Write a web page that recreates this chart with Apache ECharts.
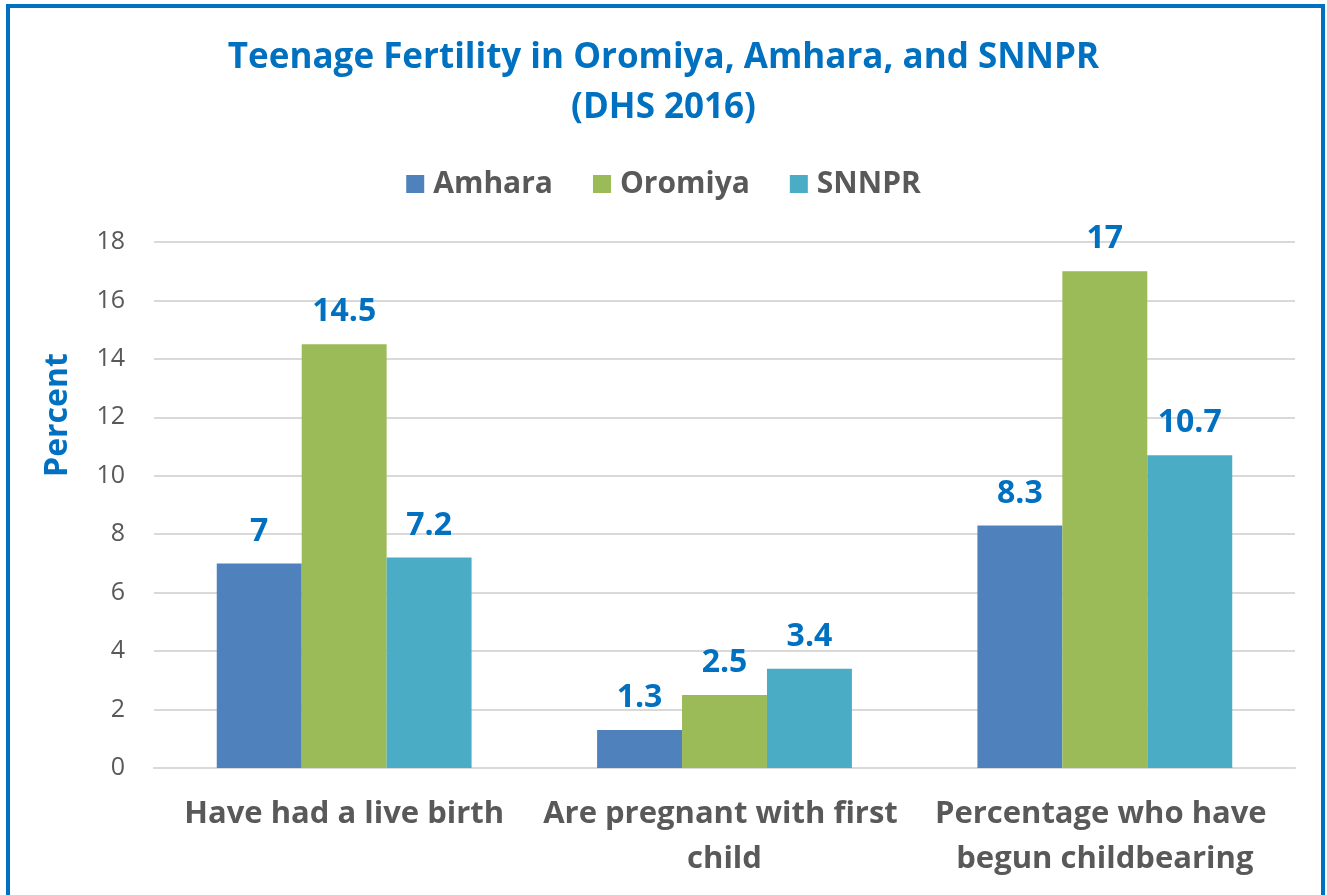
<!DOCTYPE html>
<html>
<head>
<meta charset="utf-8">
<script src="https://cdn.jsdelivr.net/npm/echarts@6/dist/echarts.min.js"></script>
<style>
  html, body { margin: 0; padding: 0; background: #fff; }
  #chart { width: 1327px; height: 895px; }
</style>
</head>
<body>
<div id="chart"></div>
<script>
// data
const categories = ["Have had a live birth", "Are pregnant with first child", "Percentage who have begun childbearing"];
const amhara = [7, 1.3, 8.3];
const oromiya = [14.5, 2.5, 17];
const snnpr = [7.2, 3.4, 10.7];
const yTicks = [0, 2, 4, 6, 8, 10, 12, 14, 16, 18];

const blue = "#0070C0";
const grey = "#595959";
const font = "'Open Sans', sans-serif";

let chart = echarts.init(document.getElementById("chart"));

function barSeries(name, data, color) {
  return {
    name: name,
    type: "bar",
    data: data,
    barGap: "0%",
    barCategoryGap: "33%",
    itemStyle: { color: color },
    label: {
      show: true,
      position: "top",
      distance: 16,
      color: blue,
      fontFamily: font,
      fontWeight: "bold",
      fontSize: 32
    }
  };
}

const option = {
  animation: false,
  textStyle: { fontFamily: font },
  title: {
    text: "Teenage Fertility in Oromiya, Amhara, and SNNPR\n(DHS 2016)",
    left: "center",
    top: 28,
    textStyle: {
      color: blue,
      fontFamily: font,
      fontWeight: "bold",
      fontSize: 35,
      lineHeight: 50
    }
  },
  legend: {
    top: 164,
    left: "center",
    itemWidth: 18,
    itemHeight: 18,
    itemGap: 40,
    icon: "rect",
    textStyle: { color: grey, fontFamily: font, fontWeight: "bold", fontSize: 30, padding: [0, 0, 0, 4] },
    data: ["Amhara", "Oromiya", "SNNPR"]
  },
  grid: { left: 154, right: 32, top: 242, bottom: 127, containLabel: false },
  xAxis: {
    type: "category",
    data: categories,
    axisLine: { show: true, lineStyle: { color: "#d9d9d9", width: 2 } },
    axisTick: { show: false },
    axisLabel: {
      color: grey,
      fontFamily: font,
      fontWeight: "bold",
      fontSize: 31,
      lineHeight: 45,
      margin: 24,
      width: 372,
      overflow: "break",
      interval: 0
    }
  },
  yAxis: {
    type: "value",
    min: yTicks[0],
    max: yTicks[yTicks.length - 1],
    interval: 2,
    name: "Percent",
    nameLocation: "middle",
    nameGap: 80,
    nameTextStyle: {
      color: blue,
      fontFamily: font,
      fontWeight: "bold",
      fontSize: 32,
      padding: [0, 0, 0, 180]
    },
    axisLine: { show: false },
    axisTick: { show: false },
    axisLabel: { color: grey, fontFamily: font, fontSize: 25, margin: 29 },
    splitLine: { lineStyle: { color: "#d9d9d9", width: 2 } }
  },
  series: [
    barSeries("Amhara", amhara, "#4F81BD"),
    barSeries("Oromiya", oromiya, "#9BBB59"),
    barSeries("SNNPR", snnpr, "#4BACC6")
  ],
  graphic: [
    {
      type: "rect",
      shape: { x: 8, y: 6, width: 1315, height: 900 },
      style: { fill: "none", stroke: blue, lineWidth: 4 },
      silent: true
    }
  ]
};

chart.setOption(option);
</script>
</body>
</html>
